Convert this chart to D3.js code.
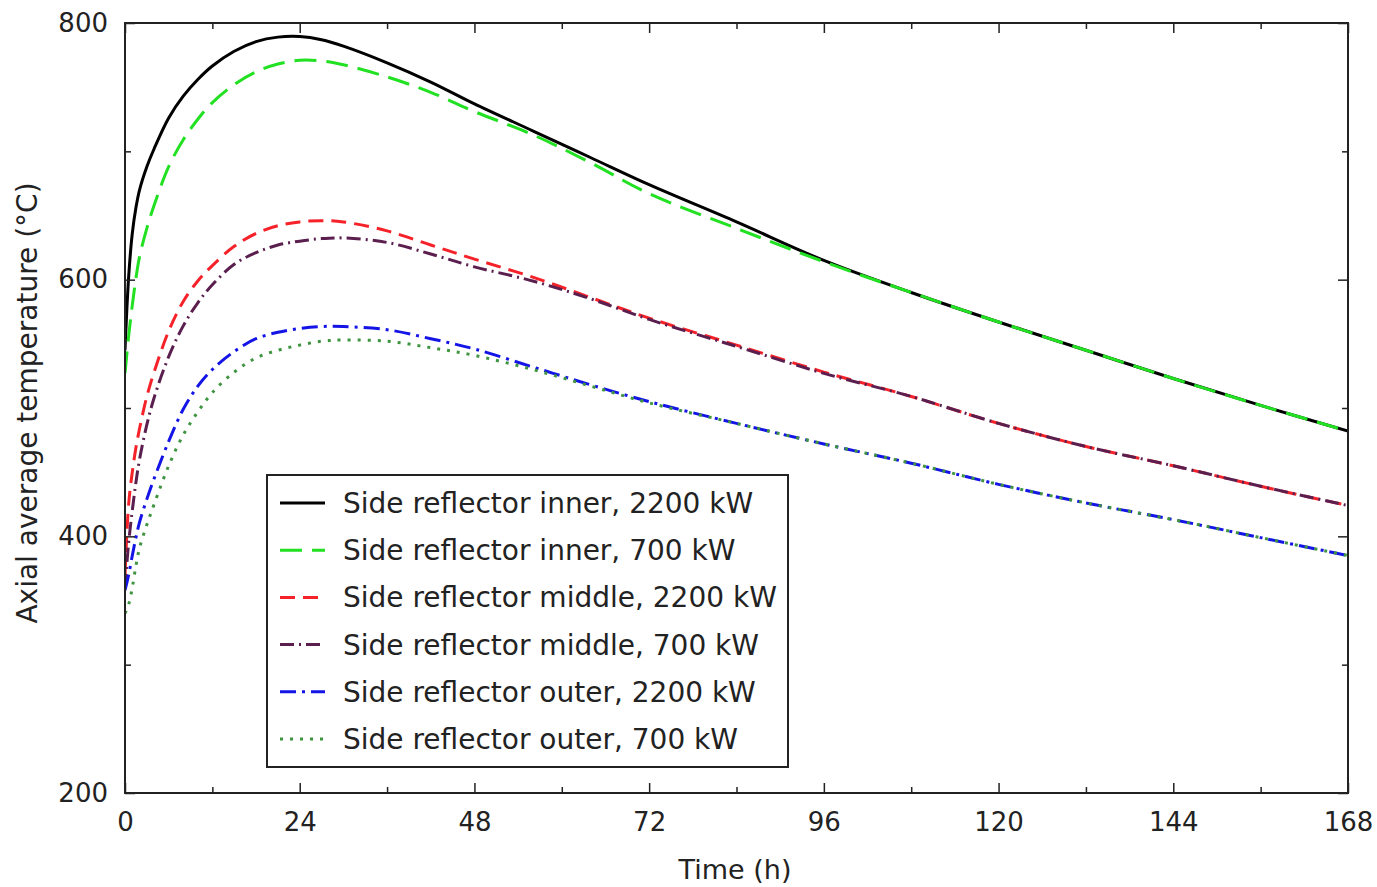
<!DOCTYPE html>
<html>
<head>
<meta charset="utf-8">
<script src="https://cdn.jsdelivr.net/npm/d3@7"></script>
<style>
  html, body { margin: 0; padding: 0; background: #fff; }
  svg { display: block; font-family: "DejaVu Sans", sans-serif; }
</style>
</head>
<body>
<svg id="chart" width="1377" height="887"></svg>
<script>
// ---------- data ----------
const times = [0, 0.5, 1, 1.5, 2, 3, 4, 6, 8, 10, 12, 15, 18, 21, 24, 27, 30, 36, 42, 48, 56, 64, 72, 84, 96, 108, 120, 132, 144, 156, 168];

const innerHigh  = [545, 602, 636, 656, 670, 688, 702, 726, 743, 756, 766.5, 778, 785.5, 789, 789.5, 787, 782, 769, 754, 737, 716, 695, 674, 645, 615, 590, 567, 545, 523, 502, 482];
const innerLow   = [527, 556, 580, 601, 618, 640, 658, 688, 709, 725, 738, 752, 762, 768, 771, 770.5, 767.5, 758, 746, 731, 713, 691, 667, 640, 614, 590, 567, 545, 523, 502, 482];
const middleHigh = [370, 425, 450, 469, 484, 509, 528, 560, 583, 599, 611, 626, 636, 642, 645, 646, 645, 638, 627, 616, 602, 586, 570, 549, 528, 509, 488, 470, 455, 439, 424];
const middleLow  = [360, 395, 420, 442, 460, 487, 508, 540, 564, 582, 596, 612, 621, 627, 630, 632, 632.5, 629, 620, 610, 599, 585, 569, 548, 527, 509, 488, 470, 455, 439, 424];
const outerHigh  = [358, 370, 385, 399, 411, 429, 445, 474, 499, 517, 530, 544, 554, 559, 562, 563.5, 563.5, 561, 554, 546, 532, 518, 505, 488, 472, 457, 440.5, 426, 413, 399, 385];
const outerLow   = [340, 347, 360, 377, 391, 409, 425, 455, 479, 497, 512, 528, 539, 545, 549, 552, 553, 552, 547, 541, 530, 517, 504, 488, 472, 457, 440.5, 426, 413, 399, 385];

const seriesNames = [
  "Side reflector inner, 2200 kW",
  "Side reflector inner, 700 kW",
  "Side reflector middle, 2200 kW",
  "Side reflector middle, 700 kW",
  "Side reflector outer, 2200 kW",
  "Side reflector outer, 700 kW"
];
const seriesValues = [innerHigh, innerLow, middleHigh, middleLow, outerHigh, outerLow];

const xTickValues = [0, 24, 48, 72, 96, 120, 144, 168];
const yTickValues = [200, 400, 600, 800];

// ---------- styles ----------
const styles = [
  { color: "#000000", dash: null },
  { color: "#22e022", dash: "22,10" },
  { color: "#f5222a", dash: "15,8" },
  { color: "#5a1f4e", dash: "14,5,2,5" },
  { color: "#1414e6", dash: "16,6,3,6" },
  { color: "#3f9440", dash: "3,7" }
];

// ---------- layout ----------
const svg = d3.select("#chart");
const pLeft = 125, pRight = 1348, pTop = 23, pBottom = 793;

const x = d3.scaleLinear().domain([0, 168]).range([pLeft, pRight]);
const y = d3.scaleLinear().domain([200, 800]).range([pBottom, pTop]);

svg.append("defs").append("clipPath").attr("id", "clip")
  .append("rect").attr("x", pLeft).attr("y", pTop)
  .attr("width", pRight - pLeft).attr("height", pBottom - pTop);

const line = d3.line()
  .x((d, i) => x(times[i]))
  .y(d => y(d))
  .curve(d3.curveCatmullRom.alpha(0.5));

const plot = svg.append("g").attr("clip-path", "url(#clip)");
seriesValues.forEach((vals, i) => {
  plot.append("path")
    .datum(vals)
    .attr("d", line)
    .attr("fill", "none")
    .attr("stroke", styles[i].color)
    .attr("stroke-width", 3)
    .attr("stroke-dasharray", styles[i].dash)
    .attr("stroke-linecap", "butt");
});

// axes (ticks pointing inward, mirrored on all sides)
const axisColor = "#222";
function styleAxis(g) {
  g.select(".domain").remove();
  g.selectAll(".tick line").attr("stroke", axisColor).attr("stroke-width", 1.5);
  g.selectAll(".tick text").attr("fill", "#222").style("font-size", "26px")
    .style("font-family", "'DejaVu Sans', sans-serif");
}

const xMinor = d3.range(12, 168, 24);
const yMinor = [300, 500, 700];

svg.append("g").attr("transform", `translate(0,${pBottom})`)
  .call(d3.axisBottom(x).tickValues(xTickValues).tickFormat(d3.format("d")).tickSizeInner(-10).tickPadding(20))
  .call(styleAxis);
svg.append("g").attr("transform", `translate(0,${pBottom})`)
  .call(d3.axisBottom(x).tickValues(xMinor).tickFormat("").tickSizeInner(-6))
  .call(styleAxis);
svg.append("g").attr("transform", `translate(0,${pTop})`)
  .call(d3.axisTop(x).tickValues(xTickValues).tickFormat("").tickSizeInner(-10))
  .call(styleAxis);
svg.append("g").attr("transform", `translate(0,${pTop})`)
  .call(d3.axisTop(x).tickValues(xMinor).tickFormat("").tickSizeInner(-6))
  .call(styleAxis);
svg.append("g").attr("transform", `translate(${pLeft},0)`)
  .call(d3.axisLeft(y).tickValues(yTickValues).tickFormat(d3.format("d")).tickSizeInner(-10).tickPadding(17))
  .call(styleAxis);
svg.append("g").attr("transform", `translate(${pLeft},0)`)
  .call(d3.axisLeft(y).tickValues(yMinor).tickFormat("").tickSizeInner(-6))
  .call(styleAxis);
svg.append("g").attr("transform", `translate(${pRight},0)`)
  .call(d3.axisRight(y).tickValues(yTickValues).tickFormat("").tickSizeInner(-10))
  .call(styleAxis);
svg.append("g").attr("transform", `translate(${pRight},0)`)
  .call(d3.axisRight(y).tickValues(yMinor).tickFormat("").tickSizeInner(-6))
  .call(styleAxis);

svg.append("rect")
  .attr("x", pLeft).attr("y", pTop)
  .attr("width", pRight - pLeft).attr("height", pBottom - pTop)
  .attr("fill", "none").attr("stroke", axisColor).attr("stroke-width", 2);

svg.append("text")
  .attr("x", 735).attr("y", 879)
  .attr("text-anchor", "middle")
  .attr("fill", "#222").style("font-size", "27px")
  .text("Time (h)");

svg.append("text")
  .attr("transform", "translate(37,403) rotate(-90)")
  .attr("text-anchor", "middle")
  .attr("fill", "#222").style("font-size", "28px")
  .text("Axial average temperature (°C)");

const legend = svg.append("g");
legend.append("rect")
  .attr("x", 267).attr("y", 475).attr("width", 521).attr("height", 292)
  .attr("fill", "#fff").attr("stroke", "#222").attr("stroke-width", 2);

seriesNames.forEach((name, i) => {
  const base = 513 + i * 47.2;
  legend.append("line")
    .attr("x1", 280).attr("x2", 325)
    .attr("y1", base - 10).attr("y2", base - 10)
    .attr("stroke", styles[i].color)
    .attr("stroke-width", 3)
    .attr("stroke-dasharray", styles[i].dash);
  legend.append("text")
    .attr("x", 343).attr("y", base)
    .attr("fill", "#222").style("font-size", "28px")
    .text(name);
});
</script>
</body>
</html>
